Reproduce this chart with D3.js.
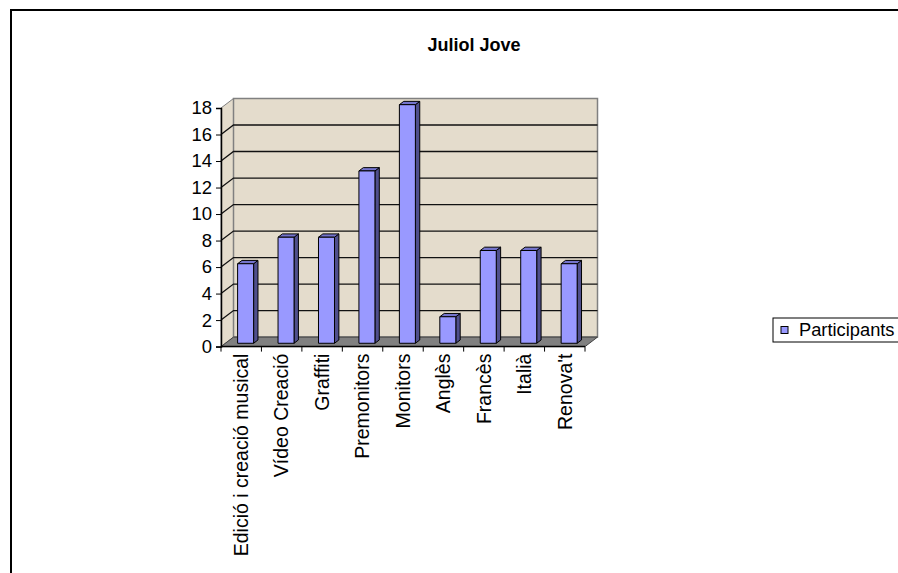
<!DOCTYPE html>
<html>
<head>
<meta charset="utf-8">
<script src="https://d3js.org/d3.v7.min.js"></script>
<style>
  html, body { margin: 0; padding: 0; background: #fff; }
  svg { display: block; font-family: "Liberation Sans", Arial, sans-serif; }
</style>
</head>
<body>
<script>
var categories = ["Edició i creació musical", "Vídeo Creació", "Graffiti", "Premonitors",
                  "Monitors", "Anglès", "Francès", "Italià", "Renova't"];
var participants = [6, 8, 8, 13, 18, 2, 7, 7, 6];
var yTicks = [0, 2, 4, 6, 8, 10, 12, 14, 16, 18];
var seriesName = "Participants";
var title = "Juliol Jove";

var W = 898, H = 573;
var DX = 12.5, DY = -9.5;   // full depth offset of the 3d box

var svg = d3.select("body").append("svg")
    .attr("width", W)
    .attr("height", H);

// outer chart frame (runs off right/bottom)
svg.append("rect")
    .attr("x", 11).attr("y", 10)
    .attr("width", 1000).attr("height", 1000)
    .attr("fill", "#fff")
    .attr("stroke", "#000")
    .attr("stroke-width", 2);

svg.append("text")
    .attr("x", 474).attr("y", 51)
    .attr("text-anchor", "middle")
    .attr("font-weight", "bold")
    .attr("font-size", 18)
    .text(title);

var x = d3.scaleBand().domain(categories).range([221, 585]);
var y = d3.scaleLinear().domain([0, 18]).range([346.6, 108]);

function p(px, py, z) {
    return [px + z * DX, py + z * DY];
}
function poly(pts) {
    return "M" + pts.map(function(d) { return d[0] + "," + d[1]; }).join("L") + "Z";
}

var x0 = x.range()[0], x1 = x.range()[1];
var yTop = y(18), yBot = y(0);

// left wall
svg.append("path")
    .attr("d", poly([p(x0, yTop, 0), p(x0, yTop, 1), p(x0, yBot, 1), p(x0, yBot, 0)]))
    .attr("fill", "#e4dccc")
    .attr("stroke", "#808080");

// back wall
svg.append("path")
    .attr("d", poly([p(x0, yTop, 1), p(x1, yTop, 1), p(x1, yBot, 1), p(x0, yBot, 1)]))
    .attr("fill", "#e4dccc")
    .attr("stroke", "#808080")
    .attr("stroke-width", 1.5);

// floor
svg.append("path")
    .attr("d", poly([p(x0, yBot, 0), p(x1, yBot, 0), p(x1, yBot, 1), p(x0, yBot, 1)]))
    .attr("fill", "#808080")
    .attr("stroke", "#404040");

// gridlines
var grid = svg.append("g").attr("stroke", "#111").attr("stroke-width", 1.3).attr("fill", "none");
yTicks.filter(function(t) { return t > 0 && t < 18; }).forEach(function(t) {
    var a = p(x0, y(t), 0), b = p(x0, y(t), 1), c = p(x1, y(t), 1);
    grid.append("path").attr("d", "M" + a + "L" + b + "L" + c);
});

// y axis
var yAxis = svg.append("g")
    .attr("transform", "translate(" + x0 + ",0)")
    .call(d3.axisLeft(y).tickValues(yTicks).tickSize(5).tickPadding(4));
yAxis.select(".domain").attr("stroke", "#000").attr("stroke-width", 1.5);
yAxis.selectAll("line").attr("stroke", "#000");
yAxis.selectAll("text").attr("font-size", 18.5).attr("fill", "#000")
    .attr("font-family", "Liberation Sans, Arial, sans-serif");

// bars
var z0 = 0.35, z1 = 0.7, bw = 16;
var bars = svg.append("g").attr("stroke", "#000").attr("stroke-width", 1).attr("stroke-linejoin", "round");
categories.forEach(function(c, i) {
    var cx = x(c) + x.bandwidth() / 2;
    var l = cx - bw / 2, r = cx + bw / 2;
    var t = y(participants[i]), b = y(0);
    bars.append("path")
        .attr("d", poly([p(r, t, z0), p(r, t, z1), p(r, b, z1), p(r, b, z0)]))
        .attr("fill", "#4f4f8c");
    bars.append("path")
        .attr("d", poly([p(l, t, z0), p(r, t, z0), p(r, t, z1), p(l, t, z1)]))
        .attr("fill", "#7474cc");
    bars.append("path")
        .attr("d", poly([p(l, t, z0), p(r, t, z0), p(r, b, z0), p(l, b, z0)]))
        .attr("fill", "#9999ff");
});

// x axis
var xAxis = svg.append("g")
    .attr("transform", "translate(0," + yBot + ")");
xAxis.append("line")
    .attr("x1", x0).attr("x2", x1)
    .attr("stroke", "#000").attr("stroke-width", 1.5);
xAxis.selectAll(".tick")
    .data(categories.concat(["end"]))
    .enter().append("line")
    .attr("x1", function(d, i) { return x0 + i * x.bandwidth(); })
    .attr("x2", function(d, i) { return x0 + i * x.bandwidth(); })
    .attr("y1", 0).attr("y2", 5)
    .attr("stroke", "#000");
xAxis.selectAll(".lbl")
    .data(categories)
    .enter().append("text")
    .attr("transform", function(d) {
        return "translate(" + (x(d) + x.bandwidth() / 2) + ",7) rotate(-90)";
    })
    .attr("text-anchor", "end")
    .attr("dy", "0.35em")
    .attr("font-size", 19.5)
    .text(function(d) { return d; });

// legend
var lg = svg.append("g").attr("transform", "translate(773,318)");
lg.append("rect")
    .attr("width", 140).attr("height", 24)
    .attr("fill", "#fff").attr("stroke", "#000");
lg.append("rect")
    .attr("x", 8).attr("y", 8.5).attr("width", 7).attr("height", 7)
    .attr("fill", "#9999ff").attr("stroke", "#000");
lg.append("text")
    .attr("x", 26).attr("y", 18)
    .attr("font-size", 18.3)
    .text(seriesName);
</script>
</body>
</html>
